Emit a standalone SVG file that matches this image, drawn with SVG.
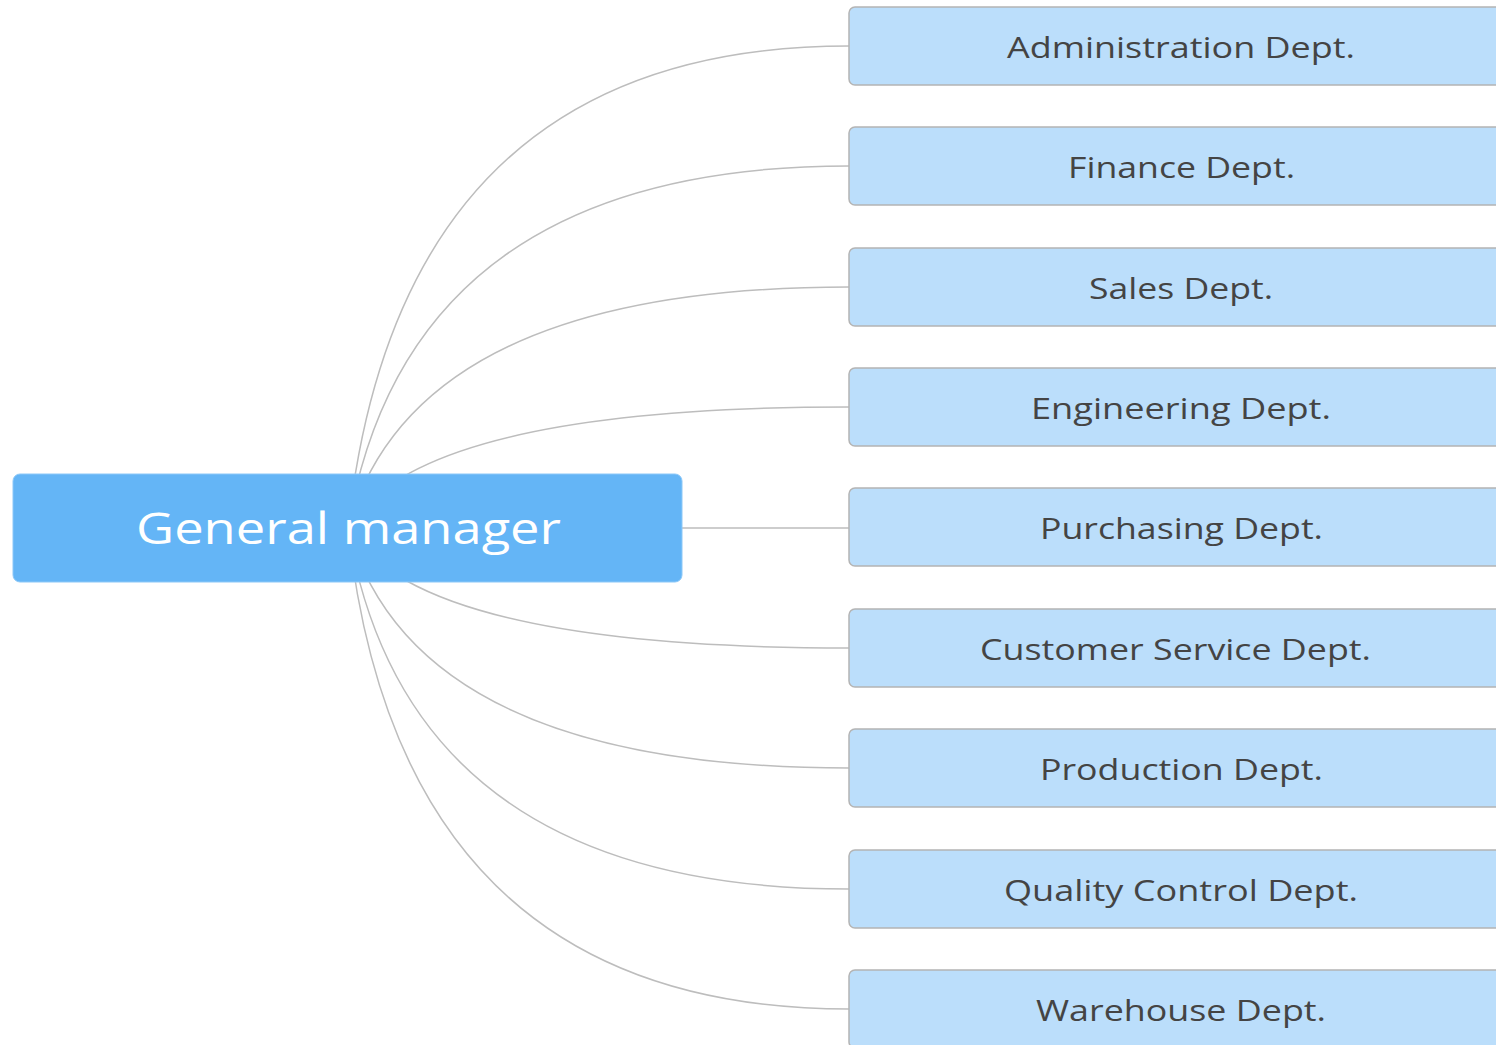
<svg xmlns="http://www.w3.org/2000/svg" width="1496" height="1045" viewBox="0 0 1496 1045">
<style>
.bg{fill:#ffffff}
.conn path{fill:none;stroke:#bdbdbd;stroke-width:1.5}
.child rect{fill:#bbdefb;stroke:#b4b4b4;stroke-width:1.5}
.child text{font-family:"Open Sans","Noto Sans","Liberation Sans",sans-serif;font-size:30px;fill:#444444;text-anchor:middle}
.root rect{fill:#64b5f6;stroke:#8cc8f8;stroke-width:1}
.root text{font-family:"Open Sans","Noto Sans","Liberation Sans",sans-serif;font-size:43px;fill:#ffffff;text-anchor:middle}
</style>
<rect class="bg" x="0" y="0" width="1496" height="1045"/>
<g id="connectors" class="conn">
<path d="M348 528 Q400 46 849 46"/>
<path d="M348 528 Q408 166 849 166"/>
<path d="M348 528 Q415 287 849 287"/>
<path d="M348 528 Q419 407 849 407"/>
<path d="M682 528 L849 528"/>
<path d="M348 528 Q419 648 849 648"/>
<path d="M348 528 Q415 768 849 768"/>
<path d="M348 528 Q408 889 849 889"/>
<path d="M348 528 Q400 1009 849 1009"/>
</g>
<g id="root" class="root">
<rect x="13" y="474" width="669" height="108" rx="7"/>
<text x="348.5" y="544" textLength="425" lengthAdjust="spacingAndGlyphs">General manager</text>
</g>
<g id="n-admin" class="child">
<rect x="849" y="7" width="660" height="78" rx="6"/>
<text x="1181" y="58" textLength="348" lengthAdjust="spacingAndGlyphs">Administration Dept.</text>
</g>
<g id="n-finance" class="child">
<rect x="849" y="127" width="660" height="78" rx="6"/>
<text x="1181.5" y="178" textLength="227" lengthAdjust="spacingAndGlyphs">Finance Dept.</text>
</g>
<g id="n-sales" class="child">
<rect x="849" y="248" width="660" height="78" rx="6"/>
<text x="1181" y="299" textLength="184" lengthAdjust="spacingAndGlyphs">Sales Dept.</text>
</g>
<g id="n-engineering" class="child">
<rect x="849" y="368" width="660" height="78" rx="6"/>
<text x="1181" y="419" textLength="300" lengthAdjust="spacingAndGlyphs">Engineering Dept.</text>
</g>
<g id="n-purchasing" class="child">
<rect x="849" y="488" width="660" height="78" rx="6"/>
<text x="1181.5" y="539" textLength="283" lengthAdjust="spacingAndGlyphs">Purchasing Dept.</text>
</g>
<g id="n-customer" class="child">
<rect x="849" y="609" width="660" height="78" rx="6"/>
<text x="1175.5" y="660" textLength="391" lengthAdjust="spacingAndGlyphs">Customer Service Dept.</text>
</g>
<g id="n-production" class="child">
<rect x="849" y="729" width="660" height="78" rx="6"/>
<text x="1181.5" y="780" textLength="283" lengthAdjust="spacingAndGlyphs">Production Dept.</text>
</g>
<g id="n-quality" class="child">
<rect x="849" y="850" width="660" height="78" rx="6"/>
<text x="1181" y="901" textLength="354" lengthAdjust="spacingAndGlyphs">Quality Control Dept.</text>
</g>
<g id="n-warehouse" class="child">
<rect x="849" y="970" width="660" height="78" rx="6"/>
<text x="1181" y="1021" textLength="290" lengthAdjust="spacingAndGlyphs">Warehouse Dept.</text>
</g>
</svg>
